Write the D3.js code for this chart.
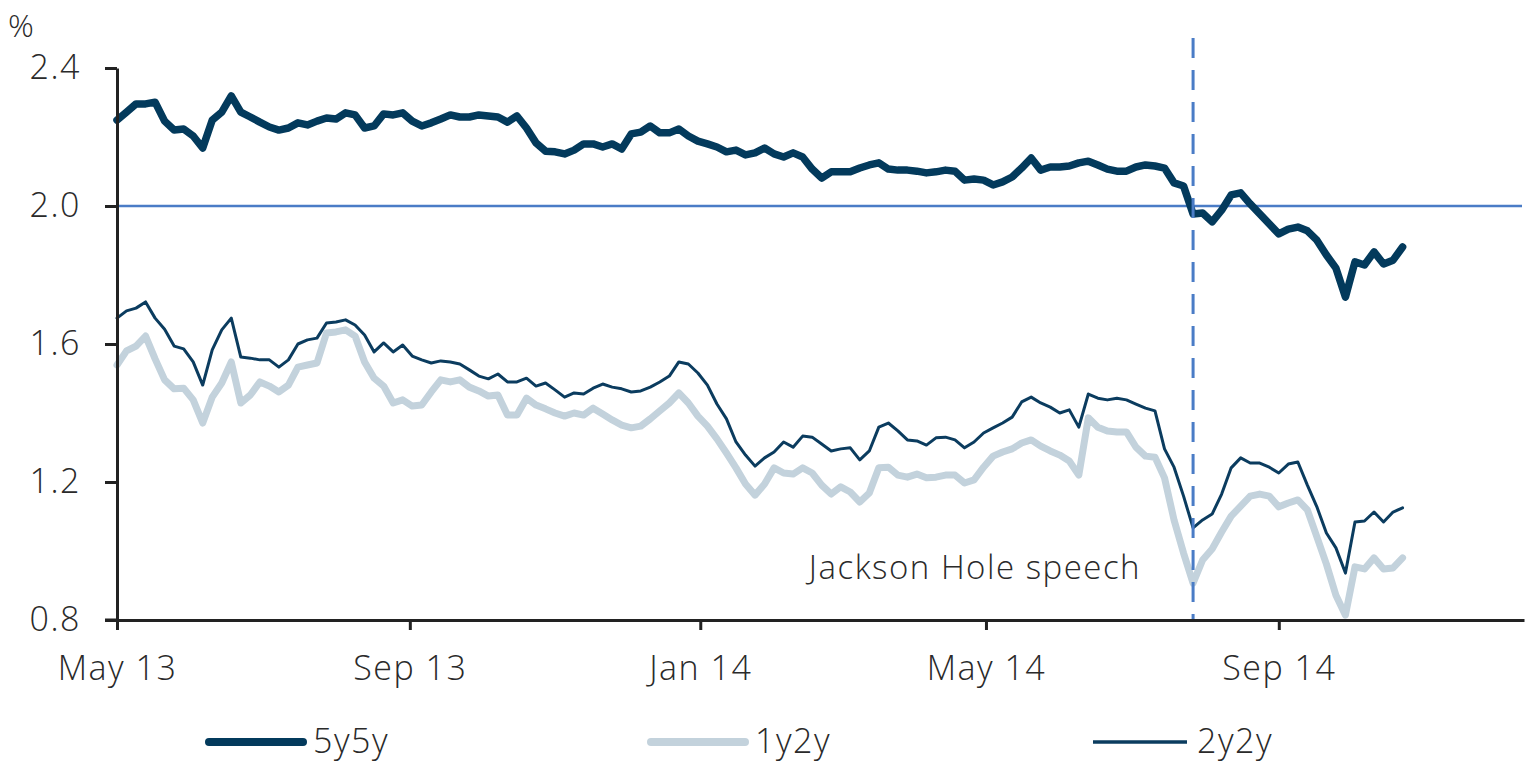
<!DOCTYPE html>
<html>
<head>
<meta charset="utf-8">
<script src="https://cdn.jsdelivr.net/npm/d3@7"></script>
<style>
  body { margin: 0; background: #fff; }
  svg text { font-family: "Open Sans", "Noto Sans", sans-serif; font-weight: 300; fill: #2a2a2a; letter-spacing: 1.5px; }
</style>
</head>
<body>
<svg id="chart" width="1527" height="763"></svg>
<script>
// Observations every 4 calendar days starting 1 May 2013
const startDate = "2013-05-01";
const stepDays = 4;

const series5y5y = [
  2.249,2.272,2.296,2.296,2.301,2.246,2.220,2.223,2.203,2.168,
  2.249,2.272,2.319,2.272,2.258,2.243,2.229,2.220,2.226,2.241,
  2.235,2.246,2.255,2.252,2.270,2.264,2.226,2.232,2.267,2.264,
  2.270,2.246,2.232,2.241,2.252,2.264,2.258,2.258,2.264,2.261,
  2.258,2.243,2.261,2.226,2.183,2.159,2.157,2.151,2.162,2.180,
  2.180,2.171,2.180,2.165,2.209,2.214,2.232,2.212,2.212,2.223,
  2.203,2.188,2.180,2.171,2.157,2.162,2.148,2.154,2.168,2.151,
  2.142,2.154,2.142,2.107,2.081,2.099,2.099,2.099,2.110,2.119,
  2.125,2.107,2.104,2.104,2.101,2.096,2.099,2.104,2.101,2.075,
  2.078,2.075,2.061,2.070,2.084,2.110,2.139,2.104,2.113,2.113,
  2.116,2.125,2.130,2.119,2.107,2.101,2.101,2.113,2.119,2.116,
  2.110,2.067,2.058,1.977,1.980,1.954,1.988,2.032,2.038,2.006,
  1.977,1.948,1.919,1.933,1.939,1.928,1.901,1.858,1.820,1.736,
  1.838,1.829,1.867,1.832,1.843,1.881
];

const series1y2y = [
  1.539,1.580,1.594,1.623,1.557,1.496,1.470,1.472,1.438,1.371,
  1.446,1.487,1.548,1.429,1.452,1.490,1.478,1.461,1.481,1.533,
  1.539,1.545,1.632,1.635,1.641,1.623,1.548,1.501,1.478,1.429,
  1.438,1.420,1.423,1.461,1.496,1.490,1.496,1.475,1.464,1.449,
  1.452,1.394,1.394,1.443,1.423,1.412,1.400,1.391,1.400,1.394,
  1.414,1.397,1.380,1.365,1.357,1.362,1.383,1.406,1.429,1.458,
  1.429,1.391,1.362,1.325,1.284,1.241,1.194,1.162,1.194,1.241,
  1.226,1.223,1.241,1.226,1.191,1.165,1.186,1.171,1.142,1.168,
  1.241,1.243,1.220,1.214,1.223,1.212,1.214,1.220,1.220,1.197,
  1.206,1.243,1.275,1.287,1.296,1.313,1.322,1.304,1.290,1.278,
  1.261,1.220,1.386,1.359,1.348,1.345,1.345,1.301,1.275,1.272,
  1.212,1.090,0.994,0.907,0.974,1.006,1.055,1.101,1.130,1.159,
  1.165,1.159,1.128,1.139,1.148,1.119,1.041,0.962,0.872,0.814,
  0.954,0.948,0.980,0.948,0.951,0.980
];

const series2y2y = [
  1.675,1.696,1.704,1.722,1.675,1.643,1.594,1.586,1.548,1.481,
  1.583,1.641,1.675,1.562,1.559,1.554,1.554,1.533,1.554,1.600,
  1.612,1.617,1.661,1.664,1.670,1.655,1.626,1.577,1.603,1.577,
  1.597,1.565,1.554,1.545,1.551,1.548,1.542,1.525,1.507,1.499,
  1.513,1.490,1.490,1.501,1.478,1.487,1.467,1.446,1.458,1.455,
  1.472,1.484,1.475,1.470,1.461,1.464,1.475,1.490,1.507,1.548,
  1.542,1.516,1.481,1.426,1.383,1.316,1.278,1.246,1.270,1.287,
  1.316,1.301,1.333,1.330,1.310,1.290,1.296,1.299,1.264,1.290,
  1.359,1.371,1.348,1.322,1.319,1.307,1.328,1.330,1.322,1.299,
  1.316,1.342,1.357,1.371,1.388,1.432,1.446,1.429,1.417,1.400,
  1.409,1.359,1.455,1.443,1.438,1.443,1.438,1.426,1.414,1.406,
  1.296,1.243,1.159,1.067,1.090,1.107,1.165,1.241,1.270,1.255,
  1.255,1.243,1.226,1.252,1.258,1.191,1.128,1.052,1.009,0.936,
  1.084,1.087,1.113,1.084,1.113,1.125
];

const seriesNames = ["5y5y", "1y2y", "2y2y"];
const yTicks = [0.8, 1.2, 1.6, 2.0, 2.4];
const axisStart = "2013-05-01";
const axisEnd = "2014-12-13";
const referenceLevel = 2.0;
const eventDate = "2014-07-27";
const eventLabel = "Jackson Hole speech";
const unitLabel = "%";

// ---- layout / style ----
const plot = { left: 117, right: 1524, top: 68, bottom: 620 };
const styles = {
  "5y5y": { color: "#033a5c", width: 7.5 },
  "1y2y": { color: "#c3d2dc", width: 7 },
  "2y2y": { color: "#0b3c5f", width: 3 }
};
const axisColor = "#222";
const refColor = "#4a7cc6";

const svg = d3.select("#chart");
const parse = d3.utcParse("%Y-%m-%d");
const t0 = parse(startDate);

const x = d3.scaleUtc().domain([parse(axisStart), parse(axisEnd)]).range([plot.left, plot.right]);
const y = d3.scaleLinear().domain([0.8, 2.4]).range([plot.bottom, plot.top]);

const toPoints = vals => vals.map((v, i) => ({ date: d3.utcDay.offset(t0, i * stepDays), value: v }));
const data = {
  "5y5y": toPoints(series5y5y),
  "1y2y": toPoints(series1y2y),
  "2y2y": toPoints(series2y2y)
};

const line = d3.line().x(d => x(d.date)).y(d => y(d.value));

// horizontal 2% reference
svg.append("line")
  .attr("x1", plot.left).attr("x2", plot.right - 2)
  .attr("y1", y(referenceLevel)).attr("y2", y(referenceLevel))
  .attr("stroke", refColor).attr("stroke-width", 2.5);

// series: light first, then thin, then thick dark on top
["1y2y", "2y2y", "5y5y"].forEach(name => {
  svg.append("path")
    .datum(data[name])
    .attr("d", line)
    .attr("fill", "none")
    .attr("stroke", styles[name].color)
    .attr("stroke-width", styles[name].width)
    .attr("stroke-linejoin", "round")
    .attr("stroke-linecap", "round");
});

// event marker
const ex = x(parse(eventDate));
svg.append("line")
  .attr("x1", ex).attr("x2", ex)
  .attr("y1", 38).attr("y2", plot.bottom)
  .attr("stroke", refColor).attr("stroke-width", 3)
  .attr("stroke-dasharray", "20 12");

svg.append("text")
  .attr("x", ex - 52).attr("y", y(0.92))
  .attr("text-anchor", "end")
  .style("font-size", "33px")
  .text(eventLabel);

// y axis
const yAxis = d3.axisLeft(y).tickValues(yTicks).tickFormat(d3.format(".1f")).tickSizeInner(12).tickSizeOuter(0).tickPadding(24);
const gy = svg.append("g").attr("transform", `translate(${plot.left},0)`).call(yAxis);
gy.select(".domain").attr("stroke", axisColor).attr("stroke-width", 3);
gy.selectAll(".tick line").attr("stroke", axisColor).attr("stroke-width", 3);
gy.selectAll(".tick text").style("font-size", "34px").attr("fill", "#2a2a2a");

// x axis
const xAxis = d3.axisBottom(x).ticks(d3.utcMonth.every(4)).tickFormat(d3.utcFormat("%b %y")).tickSizeInner(10).tickSizeOuter(0);
const gx = svg.append("g").attr("transform", `translate(0,${plot.bottom})`).call(xAxis);
gx.select(".domain").attr("stroke", axisColor).attr("stroke-width", 3);
gx.selectAll(".tick line").attr("stroke", axisColor).attr("stroke-width", 3);
gx.selectAll(".tick text").style("font-size", "34px").attr("fill", "#2a2a2a").attr("y", 60).attr("dy", null);
// extend baseline to meet the lowest y tick
svg.append("line").attr("x1", plot.left - 12).attr("x2", plot.left)
  .attr("y1", plot.bottom).attr("y2", plot.bottom)
  .attr("stroke", axisColor).attr("stroke-width", 3);

// unit label
svg.append("text").attr("x", 8).attr("y", 37).style("font-size", "32px").text(unitLabel);

// legend
const legendX = [209, 651, 1093];
const legendLen = 94;
seriesNames.forEach((name, i) => {
  const g = svg.append("g").attr("transform", `translate(${legendX[i]},742)`);
  g.append("line").attr("x1", 0).attr("x2", legendLen).attr("y1", 0).attr("y2", 0)
    .attr("stroke", styles[name].color)
    .attr("stroke-width", name === "2y2y" ? 3.5 : 8)
    .attr("stroke-linecap", name === "2y2y" ? "butt" : "round");
  g.append("text").attr("x", legendLen + 10).attr("y", 11).style("font-size", "34px").text(name);
});
</script>
</body>
</html>
